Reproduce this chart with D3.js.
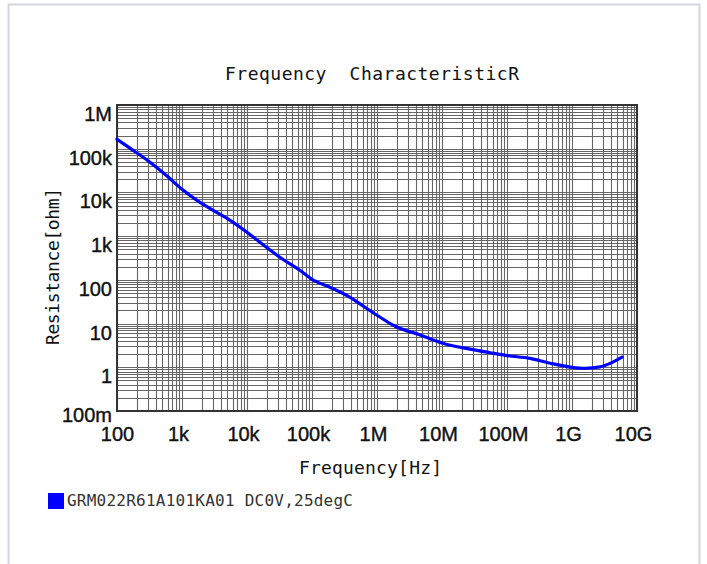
<!DOCTYPE html>
<html>
<head>
<meta charset="utf-8">
<script src="https://cdn.jsdelivr.net/npm/d3@7"></script>
<style>
  html, body { margin: 0; padding: 0; background: #fff; }
  svg { display: block; }
</style>
</head>
<body>
<svg id="chart" width="707" height="564"></svg>
<script>
// ---- data ----
const freqHz = [100, 158, 322, 547, 1000, 1890, 3200, 5500, 10000, 18900, 32000, 65000,
  100000, 189000, 385000, 653000, 1e6, 1.9e6, 4.6e6, 1e7, 2.7e7, 5.5e7, 1e8, 2.26e8,
  4.59e8, 1e9, 1.58e9, 2.7e9, 4.1e9, 5.9e9];
const resistanceOhm = [165000, 103000, 49000, 26000, 11800, 5900, 3700, 2300, 1230, 587, 329, 166,
  103, 68, 40, 23.6, 15.5, 8.7, 5.5, 3.6, 2.6, 2.15, 1.85, 1.6,
  1.24, 1.0, 0.95, 1.02, 1.28, 1.7];
const xTickValues = [1e2, 1e3, 1e4, 1e5, 1e6, 1e7, 1e8, 1e9, 1e10];
const xTickLabels = ["100", "1k", "10k", "100k", "1M", "10M", "100M", "1G", "10G"];
const yTickValues = [0.1, 1, 10, 100, 1e3, 1e4, 1e5, 1e6];
const yTickLabels = ["100m", "1", "10", "100", "1k", "10k", "100k", "1M"];
const titleText = "Frequency  CharacteristicR";
const xTitle = "Frequency[Hz]";
const yTitle = "Resistance[ohm]";
const legendLabel = "GRM022R61A101KA01 DC0V,25degC";

// ---- chart ----
const svg = d3.select("#chart");
const L = 117, R = 637, T = 105, B = 411;

// outer page border
svg.append("rect").attr("x", 8.5).attr("y", 4.5).attr("width", 691).attr("height", 600)
  .attr("fill", "none").attr("stroke", "#d3d7db").attr("stroke-width", 2);

const x = d3.scaleLog().domain([1e2, 1e10]).range([L, R]);
const y = d3.scaleLog().domain([0.1, 1e6]).range([B, T]);

// grid
const grid = svg.append("g").attr("stroke", "#666").attr("stroke-width", 1.1);
grid.selectAll("line.v").data(x.ticks()).join("line")
  .attr("x1", d => Math.round(x(d)) + 0.5).attr("x2", d => Math.round(x(d)) + 0.5)
  .attr("y1", T).attr("y2", B);
grid.selectAll("line.h").data(y.ticks()).join("line")
  .attr("y1", d => Math.round(y(d)) + 0.5).attr("y2", d => Math.round(y(d)) + 0.5)
  .attr("x1", L).attr("x2", R);

// frame
svg.append("rect").attr("x", L).attr("y", T).attr("width", R - L).attr("height", B - T)
  .attr("fill", "none").attr("stroke", "#333").attr("stroke-width", 2);

// curve
const line = d3.line().x((d, i) => x(freqHz[i])).y(d => y(d)).curve(d3.curveMonotoneX);
svg.append("path").datum(resistanceOhm).attr("d", line)
  .attr("fill", "none").attr("stroke", "#0000ff").attr("stroke-width", 3.2)
  .attr("stroke-linejoin", "round").attr("stroke-linecap", "round");

// x axis
const xAxis = svg.append("g").attr("transform", `translate(0,${B})`)
  .call(d3.axisBottom(x).tickValues(xTickValues).tickSize(0).tickPadding(16)
    .tickFormat((d, i) => xTickLabels[i]));
xAxis.select(".domain").remove();
xAxis.selectAll("text").attr("font-family", "Liberation Sans, Arial, sans-serif")
  .attr("font-size", 20).attr("fill", "#111").attr("stroke", "#111").attr("stroke-width", 0.4)
  .attr("dx", (d, i) => (i === 0 ? 0 : -4));

// y axis
const yAxis = svg.append("g").attr("transform", `translate(${L},0)`)
  .call(d3.axisLeft(y).tickValues(yTickValues).tickSize(0).tickPadding(5)
    .tickFormat((d, i) => yTickLabels[i]));
yAxis.select(".domain").remove();
yAxis.selectAll("text").attr("font-family", "Liberation Sans, Arial, sans-serif")
  .attr("font-size", 20).attr("fill", "#111").attr("stroke", "#111").attr("stroke-width", 0.4)
  .attr("dy", (d, i) => (i === 0 ? "10px" : "15.5px"));

// titles
const mono = "DejaVu Sans Mono, monospace";
svg.append("text").attr("x", 225).attr("y", 80).attr("font-family", mono)
  .attr("font-size", 18).attr("fill", "#111").attr("textLength", 294)
  .attr("lengthAdjust", "spacing").attr("xml:space", "preserve")
  .style("white-space", "pre").text(titleText);
svg.append("text").attr("x", 299).attr("y", 474).attr("font-family", mono)
  .attr("font-size", 18).attr("fill", "#111").attr("textLength", 143)
  .attr("lengthAdjust", "spacing").text(xTitle);
svg.append("text").attr("transform", "translate(59,345) rotate(-90)")
  .attr("font-family", mono).attr("font-size", 18).attr("fill", "#111")
  .attr("textLength", 157).attr("lengthAdjust", "spacing").text(yTitle);

// legend
svg.append("rect").attr("x", 48).attr("y", 493).attr("width", 16).attr("height", 16)
  .attr("fill", "#0000ff");
svg.append("text").attr("x", 67).attr("y", 506).attr("font-family", mono)
  .attr("font-size", 16).attr("fill", "#333").attr("textLength", 286)
  .attr("lengthAdjust", "spacing").text(legendLabel);
</script>
</body>
</html>
